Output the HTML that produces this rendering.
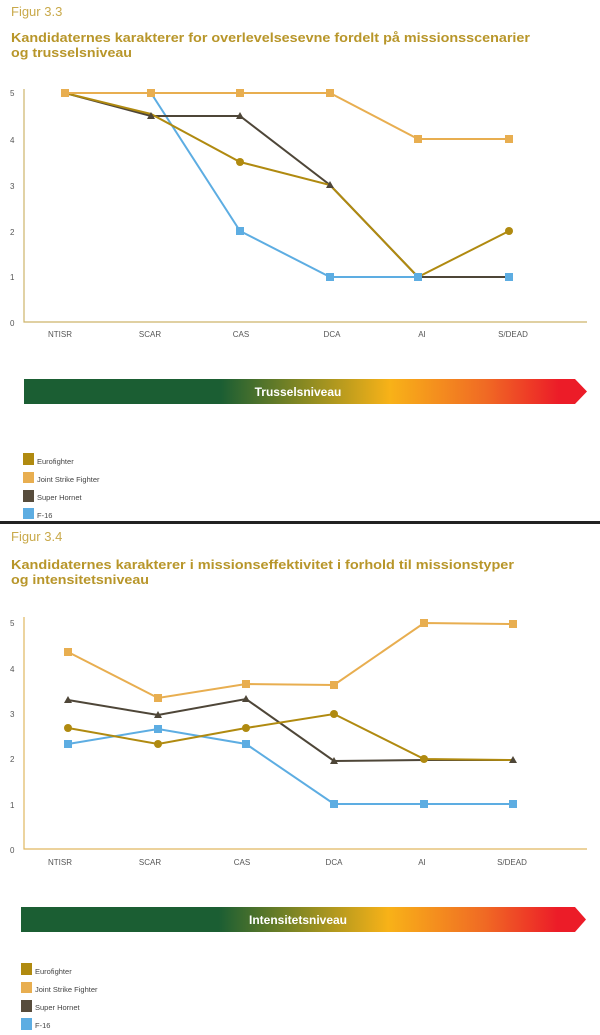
<!DOCTYPE html>
<html><head><meta charset="utf-8"><style>
html,body{margin:0;padding:0;background:#fff;}
svg{display:block;font-family:"Liberation Sans",sans-serif;}
</style></head><body>
<svg width="600" height="1035" viewBox="0 0 600 1035" xmlns="http://www.w3.org/2000/svg">
<defs>
<linearGradient id="g" x1="0" x2="1" y1="0" y2="0">
<stop offset="0" stop-color="#1b5e33"/>
<stop offset="0.35" stop-color="#1b5e33"/>
<stop offset="0.5" stop-color="#8a8a22"/>
<stop offset="0.65" stop-color="#f8b218"/>
<stop offset="0.82" stop-color="#f06a24"/>
<stop offset="0.95" stop-color="#ec1c28"/>
<stop offset="1" stop-color="#ec1c28"/>
</linearGradient>
</defs>
<!-- Chart 1 -->
<text x="11" y="16" font-size="13" fill="#c9a94a">Figur 3.3</text>
<text x="11" y="42" font-size="12.5" font-weight="bold" fill="#b8962a" textLength="519" lengthAdjust="spacingAndGlyphs">Kandidaternes karakterer for overlevelsesevne fordelt på missionsscenarier</text>
<text x="11" y="57" font-size="12.5" font-weight="bold" fill="#b8962a" textLength="121" lengthAdjust="spacingAndGlyphs">og trusselsniveau</text>
<g font-size="8" fill="#555">
<text x="10" y="96">5</text><text x="10" y="143">4</text><text x="10" y="189">3</text><text x="10" y="235">2</text><text x="10" y="280">1</text><text x="10" y="326">0</text>
</g>
<path d="M24 89 V322 H587" fill="none" stroke="#cdb36a" stroke-width="1.2"/>
<g font-size="8" fill="#555" text-anchor="middle">
<text x="60" y="337">NTISR</text><text x="150" y="337">SCAR</text><text x="241" y="337">CAS</text><text x="332" y="337">DCA</text><text x="422" y="337">AI</text><text x="513" y="337">S/DEAD</text>
</g>
<g fill="none" stroke-width="2">
<polyline points="65,93 151,93 240,231 330,277 418,277 509,277" stroke="#5dade2"/>
<polyline points="65,93 151,116 240,116 330,185 418,277 509,277" stroke="#4e4638"/>
<polyline points="65,93 151,114 240,162 330,185 418,277 509,231" stroke="#b08a10"/>
<polyline points="65,93 151,93 240,93 330,93 418,139 509,139" stroke="#e8ae50"/>
</g>
<g fill="#5dade2"><rect x="236" y="227" width="8" height="8"/><rect x="326" y="273" width="8" height="8"/><rect x="414" y="273" width="8" height="8"/><rect x="505" y="273" width="8" height="8"/></g>
<g fill="#4e4638"><path d="M151 112 l4 7 h-8z"/><path d="M240 112 l4 7 h-8z"/><path d="M330 181 l4 7 h-8z"/></g>
<g fill="#b08a10"><circle cx="240" cy="162" r="4"/><circle cx="509" cy="231" r="4"/></g>
<g fill="#e8ae50"><rect x="61" y="89" width="8" height="8"/><rect x="147" y="89" width="8" height="8"/><rect x="236" y="89" width="8" height="8"/><rect x="326" y="89" width="8" height="8"/><rect x="414" y="135" width="8" height="8"/><rect x="505" y="135" width="8" height="8"/></g>
<path d="M24 379 H575 L587 391.5 L575 404 H24z" fill="url(#g)"/>
<text x="298" y="396" font-size="12" font-weight="bold" fill="#fff" text-anchor="middle">Trusselsniveau</text>
<g font-size="7.5" fill="#444">
<rect x="23" y="453" width="11" height="12" fill="#b08a10"/><text x="37" y="464">Eurofighter</text>
<rect x="23" y="472" width="11" height="11" fill="#e8ae50"/><text x="37" y="482">Joint Strike Fighter</text>
<rect x="23" y="490" width="11" height="12" fill="#574c3c"/><text x="37" y="500">Super Hornet</text>
<rect x="23" y="508" width="11" height="11" fill="#5dade2"/><text x="37" y="518">F-16</text>
</g>
<rect x="0" y="521" width="600" height="3" fill="#222"/>
<!-- Chart 2 -->
<text x="11" y="541" font-size="13" fill="#c9a94a">Figur 3.4</text>
<text x="11" y="569" font-size="12.5" font-weight="bold" fill="#b8962a" textLength="503" lengthAdjust="spacingAndGlyphs">Kandidaternes karakterer i missionseffektivitet i forhold til missionstyper</text>
<text x="11" y="584" font-size="12.5" font-weight="bold" fill="#b8962a" textLength="138" lengthAdjust="spacingAndGlyphs">og intensitetsniveau</text>
<g font-size="8" fill="#555">
<text x="10" y="626">5</text><text x="10" y="672">4</text><text x="10" y="717">3</text><text x="10" y="762">2</text><text x="10" y="808">1</text><text x="10" y="853">0</text>
</g>
<path d="M24 617 V849 H587" fill="none" stroke="#e0b860" stroke-width="1.2"/>
<g font-size="8" fill="#555" text-anchor="middle">
<text x="60" y="865">NTISR</text><text x="150" y="865">SCAR</text><text x="242" y="865">CAS</text><text x="334" y="865">DCA</text><text x="422" y="865">AI</text><text x="512" y="865">S/DEAD</text>
</g>
<g fill="none" stroke-width="2">
<polyline points="68,744 158,729 246,744 334,804 424,804 513,804" stroke="#5dade2"/>
<polyline points="68,700 158,715 246,699 334,761 424,760 513,760" stroke="#4e4638"/>
<polyline points="68,728 158,744 246,728 334,714 424,759 513,760" stroke="#b08a10"/>
<polyline points="68,652 158,698 246,684 334,685 424,623 513,624" stroke="#e8ae50"/>
</g>
<g fill="#5dade2"><rect x="64" y="740" width="8" height="8"/><rect x="154" y="725" width="8" height="8"/><rect x="242" y="740" width="8" height="8"/><rect x="330" y="800" width="8" height="8"/><rect x="420" y="800" width="8" height="8"/><rect x="509" y="800" width="8" height="8"/></g>
<g fill="#4e4638"><path d="M68 696 l4 7 h-8z"/><path d="M158 711 l4 7 h-8z"/><path d="M246 695 l4 7 h-8z"/><path d="M334 757 l4 7 h-8z"/><path d="M513 756 l4 7 h-8z"/></g>
<g fill="#b08a10"><circle cx="68" cy="728" r="4"/><circle cx="158" cy="744" r="4"/><circle cx="246" cy="728" r="4"/><circle cx="334" cy="714" r="4"/><circle cx="424" cy="759" r="4"/></g>
<g fill="#e8ae50"><rect x="64" y="648" width="8" height="8"/><rect x="154" y="694" width="8" height="8"/><rect x="242" y="680" width="8" height="8"/><rect x="330" y="681" width="8" height="8"/><rect x="420" y="619" width="8" height="8"/><rect x="509" y="620" width="8" height="8"/></g>
<path d="M21 907 H575 L586 919.5 L575 932 H21z" fill="url(#g)"/>
<text x="298" y="924" font-size="12" font-weight="bold" fill="#fff" text-anchor="middle">Intensitetsniveau</text>
<g font-size="7.5" fill="#444">
<rect x="21" y="963" width="11" height="12" fill="#b08a10"/><text x="35" y="974">Eurofighter</text>
<rect x="21" y="982" width="11" height="11" fill="#e8ae50"/><text x="35" y="992">Joint Strike Fighter</text>
<rect x="21" y="1000" width="11" height="12" fill="#574c3c"/><text x="35" y="1010">Super Hornet</text>
<rect x="21" y="1018" width="11" height="12" fill="#5dade2"/><text x="35" y="1028">F-16</text>
</g>
</svg>
</body></html>
